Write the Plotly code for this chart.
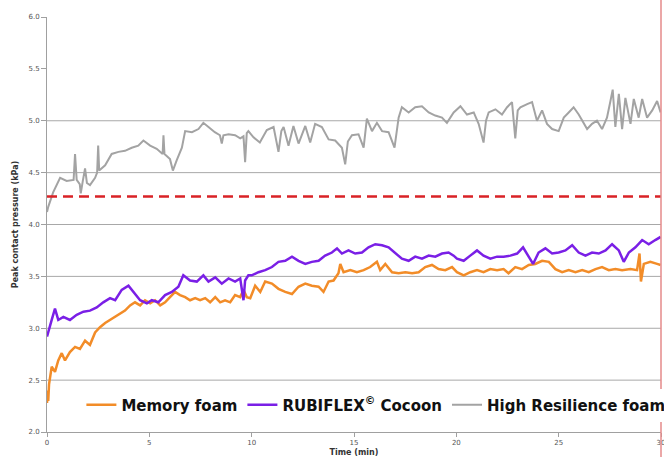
import plotly.graph_objects as go

# ---------------- data ----------------
hr_t = [0.0, 0.06, 0.3, 0.64, 0.96, 1.3, 1.37, 1.45, 1.6, 1.65, 1.75, 1.86, 1.95, 2.1, 2.35, 2.45, 2.5, 2.55,
        2.84, 3.16, 3.49, 3.81, 4.14, 4.46, 4.71, 5.04, 5.36, 5.65, 5.69, 5.74, 6.01, 6.15, 6.34, 6.59, 6.75,
        7.08, 7.4, 7.64, 7.89, 8.2, 8.45, 8.54, 8.62, 8.87, 9.19, 9.44, 9.6, 9.68, 9.76, 9.84, 10.09, 10.4,
        10.74, 11.07, 11.31, 11.45, 11.56, 11.8, 12.04, 12.29, 12.62, 12.86, 13.1, 13.43, 13.76, 14.08, 14.41,
        14.57, 14.7, 14.9, 15.22, 15.47, 15.63, 15.88, 16.12, 16.37, 16.69, 16.98, 17.18, 17.34, 17.67, 17.99,
        18.32, 18.65, 18.97, 19.3, 19.54, 19.87, 20.2, 20.52, 20.85, 21.09, 21.33, 21.45, 21.58, 21.91, 22.23,
        22.48, 22.72, 22.88, 23.0, 23.13, 23.46, 23.7, 23.94, 24.19, 24.43, 24.68, 25.0, 25.25, 25.49, 25.73,
        25.98, 26.22, 26.39, 26.63, 26.87, 27.12, 27.36, 27.53, 27.64, 27.77, 27.94, 28.1, 28.26, 28.51, 28.67,
        28.91, 29.08, 29.32, 29.57, 29.81, 29.98]
hr_v = [4.12, 4.17, 4.31, 4.45, 4.42, 4.43, 4.68, 4.43, 4.39, 4.30, 4.42, 4.54, 4.40, 4.38, 4.45, 4.50, 4.76, 4.52,
        4.57, 4.68, 4.70, 4.71, 4.74, 4.76, 4.81, 4.76, 4.73, 4.68, 4.86, 4.68, 4.63, 4.52, 4.62, 4.74, 4.90,
        4.89, 4.92, 4.98, 4.94, 4.89, 4.86, 4.78, 4.86, 4.87, 4.86, 4.83, 4.85, 4.60, 4.88, 4.90, 4.84, 4.79,
        4.91, 4.94, 4.70, 4.90, 4.94, 4.76, 4.95, 4.78, 4.95, 4.79, 4.97, 4.94, 4.82, 4.81, 4.74,
        4.58, 4.80, 4.86, 4.87, 4.74, 5.02, 4.90, 4.98, 4.90, 4.89, 4.74, 5.03, 5.13, 5.08, 5.13,
        5.14, 5.08, 5.05, 5.03, 4.98, 5.08, 5.14, 5.06, 5.08, 4.97, 4.79, 5.00, 5.08, 5.11, 5.06,
        5.13, 5.18, 4.83, 5.10, 5.13, 5.16, 5.18, 5.00, 5.10, 4.97, 4.92, 4.90, 5.03, 5.08, 5.13,
        5.06, 4.98, 4.92, 4.97, 5.00, 4.92, 5.03, 5.19, 5.30, 4.94, 5.26, 4.92, 5.22, 4.97, 5.21,
        5.03, 5.21, 5.03, 5.10, 5.19, 5.08]

mem_t = [0.0, 0.03, 0.06, 0.1, 0.23, 0.39, 0.55, 0.72, 0.88, 1.12, 1.37, 1.61, 1.86, 2.1, 2.35, 2.59, 2.84, 3.08,
         3.33, 3.57, 3.81, 4.06, 4.30, 4.55, 4.79, 5.04, 5.28, 5.53, 5.77, 6.01, 6.26, 6.5, 6.75, 6.99, 7.24,
         7.48, 7.73, 7.97, 8.22, 8.46, 8.7, 8.95, 9.19, 9.44, 9.6, 9.76, 9.93, 10.17, 10.42, 10.66, 10.99, 11.31,
         11.64, 11.97, 12.29, 12.62, 12.94, 13.27, 13.51, 13.76, 14.0, 14.24, 14.33, 14.49, 14.82, 15.14, 15.47,
         15.79, 16.12, 16.28, 16.53, 16.86, 17.18, 17.51, 17.84, 18.16, 18.48, 18.81, 19.13, 19.46, 19.79,
         20.03, 20.36, 20.68, 21.01, 21.33, 21.66, 21.99, 22.31, 22.55, 22.88, 23.21, 23.54, 23.86, 24.19,
         24.52, 24.84, 25.17, 25.49, 25.82, 26.15, 26.47, 26.8, 27.12, 27.45, 27.77, 28.1, 28.51, 28.83, 28.95,
         29.02, 29.16, 29.48, 29.81, 29.98]
mem_v = [2.28, 2.40, 2.30, 2.46, 2.63, 2.58, 2.69, 2.76, 2.69, 2.77, 2.82, 2.80, 2.88, 2.84, 2.96, 3.01, 3.05, 3.08,
         3.11, 3.14, 3.17, 3.22, 3.25, 3.22, 3.27, 3.24, 3.27, 3.22, 3.25, 3.30, 3.35, 3.32, 3.30, 3.27, 3.29,
         3.27, 3.29, 3.25, 3.30, 3.25, 3.27, 3.25, 3.32, 3.30, 3.37, 3.30, 3.29, 3.41, 3.35, 3.45, 3.43, 3.38,
         3.35, 3.33, 3.40, 3.43, 3.41, 3.40, 3.35, 3.45, 3.46, 3.53, 3.62, 3.54, 3.56, 3.54, 3.56,
         3.59, 3.64, 3.56, 3.62, 3.54, 3.53, 3.54, 3.53, 3.54, 3.59, 3.61, 3.57, 3.56, 3.59,
         3.54, 3.51, 3.54, 3.56, 3.54, 3.57, 3.56, 3.57, 3.53, 3.59, 3.57, 3.61, 3.62, 3.65,
         3.64, 3.57, 3.54, 3.56, 3.54, 3.56, 3.54, 3.57, 3.59, 3.56, 3.57, 3.56, 3.57, 3.56, 3.72,
         3.45, 3.62, 3.64, 3.62, 3.61]

rub_t = [0.0, 0.1, 0.23, 0.39, 0.55, 0.8, 1.12, 1.45, 1.78, 2.1, 2.43, 2.75, 3.08, 3.33, 3.65, 3.98, 4.22, 4.55,
         4.88, 5.12, 5.44, 5.77, 6.1, 6.42, 6.66, 6.99, 7.32, 7.64, 7.89, 8.22, 8.54, 8.87, 9.19, 9.44, 9.6,
         9.68, 9.84, 10.0, 10.33, 10.66, 10.99, 11.31, 11.64, 11.97, 12.29, 12.62, 12.94, 13.27, 13.59, 13.92,
         14.17, 14.41, 14.73, 15.06, 15.39, 15.71, 16.04, 16.37, 16.69, 17.02, 17.34, 17.67, 17.99, 18.32,
         18.65, 18.97, 19.3, 19.62, 19.87, 20.03, 20.36, 20.68, 21.01, 21.33, 21.66, 21.99, 22.31, 22.64,
         22.97, 23.26, 23.54, 23.75, 24.02, 24.35, 24.68, 25.0, 25.33, 25.66, 25.98, 26.31, 26.63, 26.96,
         27.29, 27.61, 27.94, 28.18, 28.43, 28.75, 29.08, 29.4, 29.72, 29.98]
rub_v = [2.92, 2.98, 3.08, 3.19, 3.08, 3.11, 3.08, 3.13, 3.16, 3.17, 3.20, 3.25, 3.29, 3.27, 3.37, 3.41, 3.35, 3.27,
         3.24, 3.27, 3.25, 3.32, 3.35, 3.40, 3.51, 3.46, 3.45, 3.51, 3.45, 3.49, 3.43, 3.48, 3.45, 3.48, 3.27,
         3.46, 3.51, 3.51, 3.54, 3.56, 3.59, 3.64, 3.65, 3.69, 3.65, 3.62, 3.64, 3.65, 3.70, 3.73,
         3.77, 3.72, 3.75, 3.72, 3.73, 3.78, 3.81, 3.80, 3.78, 3.72, 3.67, 3.65, 3.69, 3.67,
         3.70, 3.69, 3.72, 3.73, 3.70, 3.67, 3.65, 3.70, 3.75, 3.70, 3.67, 3.69, 3.69, 3.70,
         3.72, 3.78, 3.69, 3.62, 3.73, 3.77, 3.72, 3.73, 3.75, 3.80, 3.73, 3.70, 3.73, 3.72,
         3.75, 3.81, 3.75, 3.64, 3.73, 3.78, 3.85, 3.81, 3.85, 3.88]

threshold = 4.27
grid_values = [2.5, 3.0, 3.5, 4.0, 4.5, 5.0]
y_ticks = [2.0, 2.5, 3.0, 3.5, 4.0, 4.5, 5.0, 5.5, 6.0]
y_tick_text = ["2.0", "2.5", "3.0", "3.5", "4.0", "4.5", "5.0", "5.5", "6.0"]
x_ticks = [0, 5, 10, 15, 20, 25, 30]
x_tick_text = ["0", "5", "10", "15", "20", "25", "30"]

names = ["Memory foam", "RUBIFLEX<sup>©</sup> Cocoon", "High Resilience foam"]
colors = ["#f28c28", "#7a1fe6", "#a3a3a3"]

# ---------------- figure ----------------
fig = go.Figure()
fig.add_trace(go.Scatter(x=hr_t, y=hr_v, mode="lines", name=names[2],
                         line=dict(color=colors[2], width=2), showlegend=False))
fig.add_trace(go.Scatter(x=mem_t, y=mem_v, mode="lines", name=names[0],
                         line=dict(color=colors[0], width=2.5)))
fig.add_trace(go.Scatter(x=rub_t, y=rub_v, mode="lines", name=names[1],
                         line=dict(color=colors[1], width=2.5)))
# legend entry for HR foam (keeps legend order)
fig.add_trace(go.Scatter(x=[None], y=[None], mode="lines", name=names[2],
                         line=dict(color=colors[2], width=2)))

shapes = []
for g in grid_values:
    shapes.append(dict(type="line", xref="paper", x0=0, x1=1, yref="y", y0=g, y1=g,
                       line=dict(color="#a8a8a8", width=1), layer="below"))
shapes.append(dict(type="line", xref="paper", x0=0, x1=1, yref="y", y0=threshold, y1=threshold,
                   line=dict(color="#d92226", width=2.5, dash="10px,6px"), layer="above"))
shapes.append(dict(type="line", xref="paper", x0=1.0, x1=1.0, yref="paper", y0=-0.06, y1=1.05,
                   line=dict(color="#e58a8a", width=1.5), layer="above"))

fig.update_layout(
    width=664, height=459,
    margin=dict(l=47, r=3, t=17, b=27, autoexpand=False),
    paper_bgcolor="white", plot_bgcolor="white",
    shapes=shapes,
    showlegend=True,
    legend=dict(orientation="h", x=0.056, xanchor="left", y=0.065, yanchor="middle",
                bgcolor="white", borderwidth=0,
                font=dict(family="DejaVu Sans", size=15, color="#111111", weight="bold"),
                itemwidth=30, traceorder="normal"),
    font=dict(family="DejaVu Sans"),
)
fig.update_xaxes(range=[0, 30], tickmode="array", tickvals=x_ticks, ticktext=x_tick_text,
                 showgrid=False, zeroline=False, showline=True, linecolor="#a0a0a0", linewidth=1,
                 ticks="outside", ticklen=4, tickcolor="#a0a0a0", automargin=False,
                 ticklabeloverflow="allow",
                 tickfont=dict(size=7, color="#555555"),
                 title=dict(text="Time (min)", font=dict(size=8, color="#333333", weight="bold"), standoff=2))
fig.update_yaxes(range=[2.0, 6.0], tickmode="array", tickvals=y_ticks, ticktext=y_tick_text,
                 showgrid=False, zeroline=False, showline=True, linecolor="#a0a0a0", linewidth=1,
                 ticks="outside", ticklen=5, tickcolor="#a0a0a0", automargin=False,
                 tickfont=dict(size=7, color="#555555"),
                 title=dict(text="Peak contact pressure (kPa)", font=dict(size=8, color="#333333", weight="bold"),
                            standoff=8))

fig.write_html("out.html", config={"displayModeBar": False},
               post_script="document.body.style.margin='0';document.body.style.overflow='hidden';")
